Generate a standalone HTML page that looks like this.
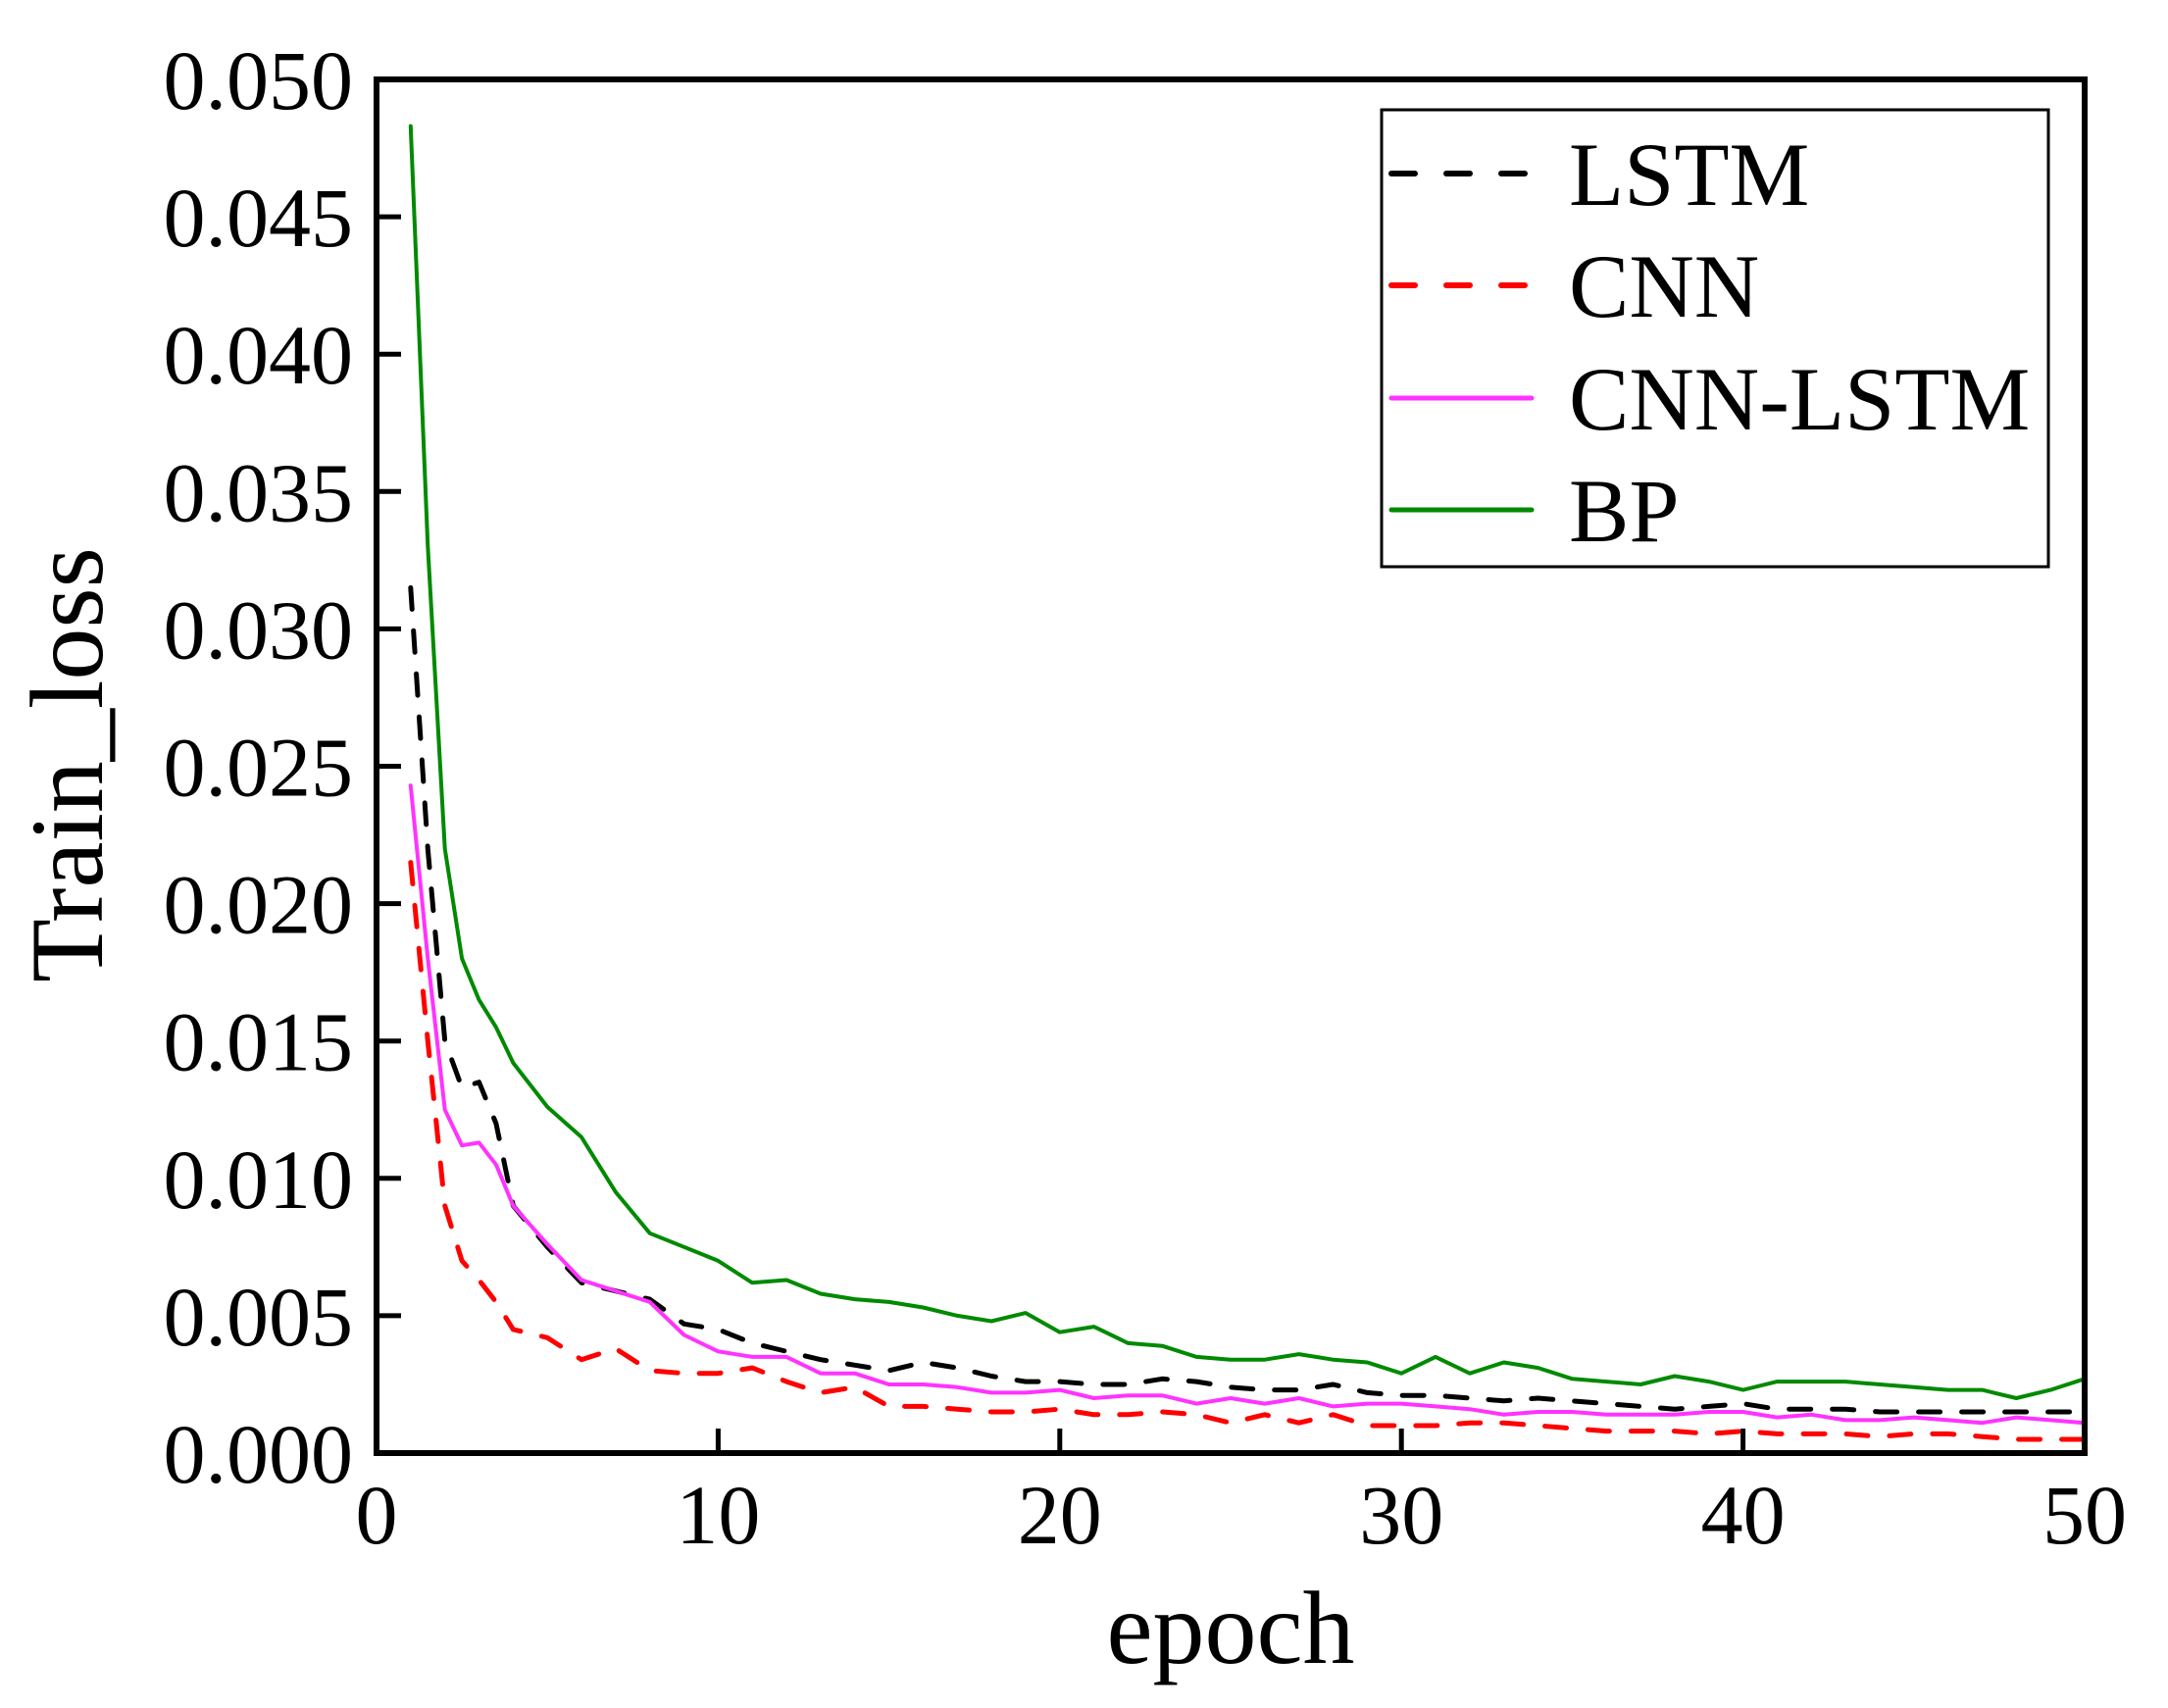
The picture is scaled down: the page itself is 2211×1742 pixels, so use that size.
<!DOCTYPE html>
<html><head><meta charset="utf-8"><style>
html,body{margin:0;padding:0;background:#fff;}
svg{display:block;font-family:"Liberation Serif",serif;}
</style></head><body>
<svg id="chart" width="2211" height="1742" viewBox="0 0 2211 1742">
<g id="plot"></g>
</svg>
<script>
const xTicks=[0,10,20,30,40,50];
const yTicks=[0,0.005,0.010,0.015,0.020,0.025,0.030,0.035,0.040,0.045,0.050];
const yTickLabels=["0.000","0.005","0.010","0.015","0.020","0.025","0.030","0.035","0.040","0.045","0.050"];
const epochs=[1,1.5,2,2.5,3,3.5,4,5,6,7,8,9,10,11,12,13,14,15,16,17,18,19,20,21,22,23,24,25,26,27,28,29,30,31,32,33,34,35,36,37,38,39,40,41,42,43,44,45,46,47,48,49,50];
const lstm=[31.5,22,15,13.3,13.5,12,9,7.5,6.2,5.9,5.6,4.7,4.5,4.0,3.7,3.4,3.2,3.0,3.3,3.1,2.8,2.6,2.6,2.5,2.5,2.7,2.6,2.4,2.3,2.3,2.5,2.2,2.1,2.1,2.0,1.9,2.0,1.9,1.8,1.7,1.6,1.7,1.8,1.6,1.6,1.6,1.5,1.5,1.5,1.5,1.5,1.5,1.5];
const cnn=[21.5,15,9,7,6.3,5.5,4.5,4.2,3.4,3.8,3.0,2.9,2.9,3.1,2.6,2.2,2.4,1.7,1.7,1.6,1.5,1.5,1.6,1.4,1.4,1.5,1.4,1.1,1.4,1.1,1.4,1.0,1.0,1.0,1.1,1.1,1.0,0.9,0.8,0.8,0.8,0.7,0.8,0.7,0.7,0.7,0.6,0.7,0.7,0.6,0.5,0.5,0.5];
const cnnLstm=[24.3,18,12.5,11.2,11.3,10.5,9,7.6,6.3,5.9,5.5,4.3,3.7,3.5,3.5,2.9,2.9,2.5,2.5,2.4,2.2,2.2,2.3,2.0,2.1,2.1,1.8,2.0,1.8,2.0,1.7,1.8,1.8,1.7,1.6,1.4,1.5,1.5,1.4,1.4,1.4,1.5,1.5,1.3,1.4,1.2,1.2,1.3,1.2,1.1,1.3,1.2,1.1];
const bp=[48.3,33,22,18,16.5,15.5,14.2,12.6,11.5,9.5,8,7.5,7,6.2,6.3,5.8,5.6,5.5,5.3,5.0,4.8,5.1,4.4,4.6,4.0,3.9,3.5,3.4,3.4,3.6,3.4,3.3,2.9,3.5,2.9,3.3,3.1,2.7,2.6,2.5,2.8,2.6,2.3,2.6,2.6,2.6,2.5,2.4,2.3,2.3,2.0,2.3,2.7];
const seriesNames=["LSTM","CNN","CNN-LSTM","BP"];

const NS="http://www.w3.org/2000/svg";
const L=384,R=2126,T=81,B=1482;
const xS=v=>L+(v-0)/(50-0)*(R-L);
const yS=v=>B-(v-0)/(0.05-0)*(B-T);
const svg=document.getElementById('chart');
function mk(tag,attrs,parent){const e=document.createElementNS(NS,tag);for(const k in attrs)e.setAttribute(k,attrs[k]);(parent||svg).appendChild(e);return e;}

const styles=[
 {data:lstm,color:"#000",dash:"22 22",w:5},
 {data:cnn,color:"#ff0000",dash:"22 22",w:5},
 {data:cnnLstm,color:"#ff33ff",dash:null,w:4},
 {data:bp,color:"#008a00",dash:null,w:4}
];
styles.forEach((s,i)=>{
  const d=epochs.map((e,j)=>(j?'L':'M')+xS(e).toFixed(1)+','+yS(s.data[j]/1000).toFixed(1)).join(' ');
  const p=mk('path',{d:d,fill:'none',stroke:s.color,'stroke-width':s.w,'stroke-linejoin':'round','stroke-linecap':'round'});
  if(s.dash)p.setAttribute('stroke-dasharray',s.dash);
  
  
});

const fr=mk('rect',{x:L,y:T,width:R-L,height:B-T,fill:'none',stroke:'#000','stroke-width':6});



yTicks.forEach((v,i)=>{
  const y=yS(v);
  const t=mk('line',{x1:L,x2:L+25,y1:y,y2:y,stroke:'#000','stroke-width':5});
  
  
  const tx=mk('text',{x:L-24,y:y+30,'text-anchor':'end','font-size':86});
  tx.textContent=yTickLabels[i];
  
  
});
xTicks.forEach(v=>{
  const x=xS(v);
  if(v>0&&v<50){
    const t=mk('line',{x1:x,x2:x,y1:B,y2:B-25,stroke:'#000','stroke-width':5});
    
    
  }
  const tx=mk('text',{x:x,y:B+92,'text-anchor':'middle','font-size':86});
  tx.textContent=String(v);
  
  
});

const xt=mk('text',{x:(L+R)/2,y:1696,'text-anchor':'middle','font-size':106});
xt.textContent='epoch';


const yt=mk('text',{x:0,y:0,'text-anchor':'middle','font-size':106,transform:'translate(104,780) rotate(-90)'});
yt.textContent='Train_loss';



const lg=mk('g',{});


const lb=mk('rect',{x:1409,y:112,width:680,height:466,fill:'#fff',stroke:'#000','stroke-width':3},lg);


const ly=[177,291,406,520];
styles.forEach((s,i)=>{
  const g=mk('g',{},lg);
  
  
  const ln=mk('line',{x1:1419,x2:1562,y1:ly[i],y2:ly[i],stroke:s.color,'stroke-width':s.w+1,'stroke-linecap':'round'},g);
  if(s.dash)ln.setAttribute('stroke-dasharray','24 32');
  const tx=mk('text',{x:1600,y:ly[i]+32,'font-size':92},g);
  tx.textContent=seriesNames[i];
});
</script>
</body></html>
